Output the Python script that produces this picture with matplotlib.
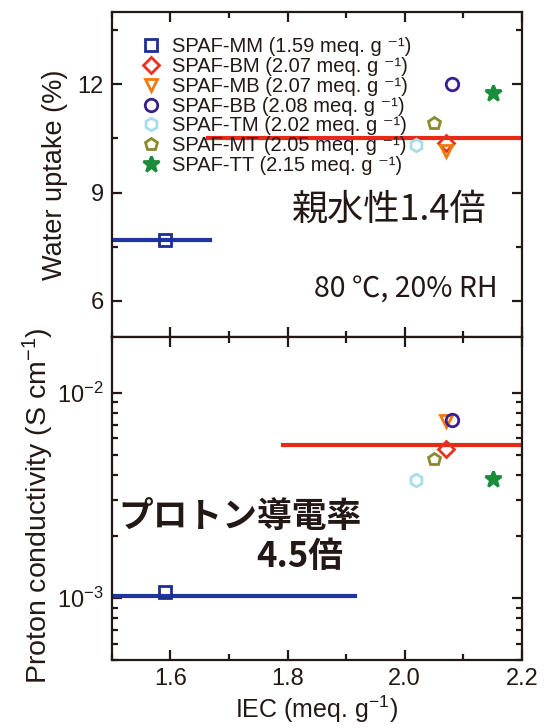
import numpy as np
import matplotlib
matplotlib.use('Agg')
import matplotlib.pyplot as plt
from matplotlib.ticker import MultipleLocator, LogLocator, NullFormatter

# sample data
names = ['SPAF-MM', 'SPAF-BM', 'SPAF-MB', 'SPAF-BB', 'SPAF-TM', 'SPAF-MT', 'SPAF-TT']
iec = [1.59, 2.07, 2.07, 2.08, 2.02, 2.05, 2.15]
water_uptake = [7.70, 10.37, 10.15, 12.0, 10.32, 10.93, 11.75]
conductivity = [1.07e-3, 5.35e-3, 7.3e-3, 7.4e-3, 3.75e-3, 4.75e-3, 3.82e-3]
markers = ['s', 'D', 'v', 'o', 'h', 'p', '*']
colors = ['#1c2f95', '#e8321e', '#f07a10', '#3a1f8c', '#a8dce8', '#8a8a2c', '#1a8c3c']

# guide lines: (x_start, x_end, y)
wu_low = (1.5, 1.667, 7.70)
wu_high = (1.665, 2.2, 10.5)
pc_low = (1.5, 1.915, 1.03e-3)
pc_high = (1.792, 2.2, 5.55e-3)

plt.rcParams['font.family'] = ['Liberation Sans', 'DejaVu Sans', 'Noto Sans CJK JP']
plt.rcParams['axes.linewidth'] = 1.6
plt.rcParams['mathtext.fontset'] = 'custom'
plt.rcParams['mathtext.rm'] = 'Liberation Sans'
plt.rcParams['mathtext.it'] = 'Liberation Sans'

fig = plt.figure(figsize=(5.51, 7.28), dpi=100)
ax1 = fig.add_axes([0.203, 0.537, 0.744, 0.4465])
ax2 = fig.add_axes([0.203, 0.0934, 0.744, 0.4436])

line_blue = '#1f35a0'
line_red = '#e8281a'
ink = '#231815'

ax1.plot(wu_low[:2], [wu_low[2]] * 2, color=line_blue, lw=3, zorder=2)
ax1.plot(wu_high[:2], [wu_high[2]] * 2, color=line_red, lw=3, zorder=2)
ax2.plot(pc_low[:2], [pc_low[2]] * 2, color=line_blue, lw=3, zorder=2)
ax2.plot(pc_high[:2], [pc_high[2]] * 2, color=line_red, lw=3, zorder=2)

for i in range(len(names)):
    ms = 12 if markers[i] == '*' else 9
    kw = dict(marker=markers[i], ms=ms, mfc='none', mec=colors[i], mew=2,
              ls='none', zorder=3)
    if markers[i] == '*':
        kw['mfc'] = colors[i]
    if markers[i] == 'D':
        kw['ms'] = 8.5
    lab = '%s (%.2f meq. g \u207b\u00b9)' % (names[i], iec[i])
    ax1.plot(iec[i], water_uptake[i], label=lab, **kw)
    ax2.plot(iec[i], conductivity[i], **kw)

ax1.set_xlim(1.5, 2.2)
ax1.set_ylim(5, 14)
ax1.yaxis.set_major_locator(MultipleLocator(3))
ax1.yaxis.set_minor_locator(MultipleLocator(1.5))

ax2.set_xlim(1.5, 2.2)
ax2.set_yscale('log')
ax2.set_ylim(5e-4, 1.87e-2)
ax2.yaxis.set_major_locator(LogLocator(base=10, numticks=10))
ax2.yaxis.set_minor_locator(LogLocator(base=10, subs=np.arange(2, 10), numticks=10))
ax2.yaxis.set_minor_formatter(NullFormatter())

for ax in (ax1, ax2):
    ax.xaxis.set_major_locator(MultipleLocator(0.2))
    ax.xaxis.set_minor_locator(MultipleLocator(0.1))
    ax.tick_params(which='both', direction='in', top=True, right=True,
                   labelsize=17, width=1.6, color=ink, labelcolor=ink)
    ax.tick_params(which='major', length=7, pad=6)
    ax.tick_params(which='minor', length=4)
    for s in ax.spines.values():
        s.set_color(ink)

ax1.tick_params(labelbottom=False)
ax2.set_xticks([1.6, 1.8, 2.0, 2.2])
ax2.set_xticklabels(['1.6', '1.8', '2.0', '2.2'])

ax1.set_ylabel('Water uptake (%)', fontsize=19.5, labelpad=7, color=ink)
ax2.set_ylabel('Proton conductivity (S cm$^{-1}$)', fontsize=20.5, labelpad=1, color=ink)
ax2.yaxis.label.set_y(0.477)
ax2.set_xlabel('IEC (meq. g$^{-1}$)', fontsize=18, labelpad=2, color=ink)

ax1.legend(loc='upper left', frameon=False, fontsize=14.5, handletextpad=0.6,
           labelspacing=0.04, borderaxespad=0.3, handlelength=0.85,
           bbox_to_anchor=(0.04, 0.966), labelcolor=ink)

ax1.text(0.915, 0.39, '親水性1.4倍', transform=ax1.transAxes, ha='right',
         va='center', fontsize=26, family='Noto Sans CJK JP', color=ink)
ax1.text(0.94, 0.145, '80 ℃, 20% RH', transform=ax1.transAxes, ha='right',
         va='center', fontsize=20.5, family='Noto Sans CJK JP', color=ink)
ax2.text(0.015, 0.445, 'プロトン導電率', transform=ax2.transAxes, ha='left',
         va='center', fontsize=25, fontweight='bold', family='Noto Sans CJK JP',
         color=ink)
ax2.text(0.565, 0.32, '4.5倍', transform=ax2.transAxes, ha='right',
         va='center', fontsize=25, fontweight='bold', family='Noto Sans CJK JP',
         color=ink)

fig.savefig('out.png', dpi=100)
